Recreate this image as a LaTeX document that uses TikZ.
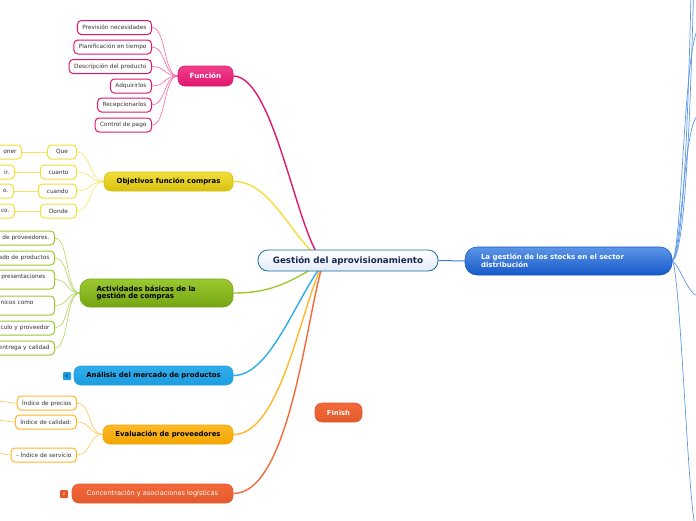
\documentclass[tikz,border=0pt]{standalone}
\usepackage{fontspec}
\setmainfont{DejaVu Sans}
\pgfdeclarelayer{bg}
\pgfsetlayers{bg,main}
\definecolor{cpink}{HTML}{E0166F}
\definecolor{cpinkl}{HTML}{F0408A}
\definecolor{cyel}{HTML}{D8C10E}
\definecolor{cyell}{HTML}{F2DE3A}
\definecolor{cgreen}{HTML}{74A612}
\definecolor{cgreenl}{HTML}{9CC830}
\definecolor{cblue}{HTML}{1C9EE0}
\definecolor{cbluel}{HTML}{30ACEA}
\definecolor{corange}{HTML}{F0A600}
\definecolor{corangel}{HTML}{FFB828}
\definecolor{cred}{HTML}{E25A2C}
\definecolor{credl}{HTML}{F4693A}
\definecolor{cdeep}{HTML}{1558C8}
\definecolor{cdeepl}{HTML}{5C96E8}
\definecolor{cnavy}{HTML}{1A2850}
\begin{document}
\begin{tikzpicture}[x=1pt,y=-1pt,
  topic/.style 2 args={rounded corners=7pt, draw=#1, line width=0.6pt, top color=#2, bottom color=#1, inner sep=0pt},
  bigtxt/.style={font=\bfseries\fontsize{6.9}{8}\selectfont},
  leaf/.style={draw=#1, line width=1pt, fill=white, rounded corners=4pt, minimum height=14pt, inner xsep=5pt, inner ysep=0pt, font=\fontsize{5.8}{6.8}\selectfont, text=black!80, anchor=east},
  conn/.style={draw=#1, line width=1.4pt},
  sub/.style={draw=#1, line width=0.6pt},
  badge/.style={fill=#1, rounded corners=1pt, minimum size=8pt, inner sep=0pt, font=\fontsize{4}{4}\selectfont}
]
\useasboundingbox (0,0) rectangle (696,520);

% central & right
\node[rounded corners=10pt, draw=cblue!70!black, line width=0.8pt, top color=white, bottom color=cdeep!12, minimum width=180pt, minimum height=21pt, inner sep=0pt, text=cnavy, font=\bfseries\fontsize{8.7}{10}\selectfont] (C) at (348,260.5) {Gestión del aprovisionamiento};
\coordinate (hub) at (324,262);
\node[topic={cdeep}{cdeepl}, rounded corners=12pt, minimum width=207pt, minimum height=28pt, text width=175pt, inner xsep=16pt, align=left, text=white, font=\bfseries\fontsize{7}{8.4}\selectfont] (R) at (568.5,261) {La gestión de los stocks en el sector\\distribución};

% Función
\node[topic={cpink}{cpinkl}, minimum width=55pt, minimum height=20pt, text=white, font=\bfseries\fontsize{7.2}{8}\selectfont] (F) at (205.5,76) {Función};
\node[leaf=cpink] (f1) at (152,27.5) {Previsión necesidades};
\node[leaf=cpink] (f2) at (152,47) {Planificación en tiempo};
\node[leaf=cpink] (f3) at (152,66.5) {Descripción del producto};
\node[leaf=cpink] (f4) at (152,86) {Adquirirlos};
\node[leaf=cpink] (f5) at (152,105) {Recepcionarlos};
\node[leaf=cpink] (f6) at (152,125) {Control de pago};

% Objetivos
\node[topic={cyel}{cyell}, minimum width=129pt, minimum height=19pt, text=black, bigtxt] (O) at (168.5,181.5) {Objetivos función compras};
\node[leaf=cyell, minimum width=29pt] (o1) at (77,152) {Que};
\node[leaf=cyell, minimum width=36pt] (o2) at (77,172) {cuanto};
\node[leaf=cyell, minimum width=38pt] (o3) at (77,191) {cuando};
\node[leaf=cyell, minimum width=36pt] (o4) at (77,211) {Donde};
\node[leaf=cyell, text width=40pt, align=right] (g1) at (22,152) {oner};
\node[leaf=cyell, text width=40pt, align=right] (g2) at (15,172) {ir.};
\node[leaf=cyell, text width=40pt, align=right] (g3) at (14,191) {o.};
\node[leaf=cyell, text width=40pt, align=right] (g4) at (15,211) {co.};

% Actividades
\node[topic={cgreen}{cgreenl}, rounded corners=10pt, minimum width=153pt, minimum height=28pt, text width=120pt, inner xsep=16.5pt, align=left, text=black, font=\bfseries\fontsize{7}{7.8}\selectfont] (A) at (156.5,293) {Actividades básicas de la\\gestión de compras};
\node[leaf=cgreenl, text width=80pt, align=right] (a1) at (55,238) {de proveedores.};
\node[leaf=cgreenl, text width=80pt, align=right] (a2) at (55,258) {ado de productos};
\node[leaf=cgreenl, text width=80pt, align=right, minimum height=19pt, text depth=7pt] (a3) at (55,279.5) {presentaciones\hspace*{4pt}};
\node[leaf=cgreenl, text width=80pt, align=right, minimum height=19pt, text depth=7pt] (a4) at (55,305.5) {nicos como\hspace*{16pt}};
\node[leaf=cgreenl, text width=80pt, align=right] (a5) at (55,328) {culo y proveedor};
\node[leaf=cgreenl, text width=80pt, align=right] (a6) at (55,348) {entrega y calidad};

% Análisis
\node[topic={cblue}{cbluel}, minimum width=159pt, minimum height=19pt, text=black, bigtxt] (M) at (153.5,375.5) {Análisis del mercado de productos};
\node[badge=cblue, text=cnavy] (b6) at (67,376) {6};

% Evaluación
\node[topic={corange}{corangel}, minimum width=130pt, minimum height=19pt, text=black, bigtxt] (E) at (168,434.5) {Evaluación de proveedores};
\node[leaf=corangel] (e1) at (77,403) {Índice de precios};
\node[leaf=corangel] (e2) at (77,422) {Índice de calidad:};
\node[leaf=corangel] (e3) at (77,455) {– Índice de servicio};
\coordinate (e1x) at (-4,401);
\coordinate (e2x) at (-4,420);
\coordinate (e3x) at (-4,453);

% Concentración
\node[topic={cred}{credl}, minimum width=161pt, minimum height=19pt, text=white, font=\fontsize{6.6}{8}\selectfont] (K) at (152.5,493.5) {Concentración y asociaciones logísticas};
\node[badge=cred, text=white] (b2) at (64,494) {2};

% Finish
\node[topic={cred}{credl}, minimum width=47pt, minimum height=19pt, text=white, font=\bfseries\fontsize{6.8}{8}\selectfont] (Fin) at (338.5,412.5) {Finish};

% right side off-canvas ends
\coordinate (r1) at (691,-5);
\coordinate (r2) at (693.5,-5);
\coordinate (r3) at (699,28);
\coordinate (r4) at (699,115);
\coordinate (r5) at (699,296);
\coordinate (r6) at (695,525);

\begin{pgfonlayer}{bg}
\draw[conn=cpink] (F.east) .. controls (275,76) and (298,242) .. (hub);
\draw[conn=cyell] (O.east) .. controls (272,181) and (290,238) .. (hub);
\draw[conn=cgreenl] (A.east) .. controls (275,293) and (292,280) .. (hub);
\draw[conn=cbluel] (M.east) .. controls (270,376) and (295,300) .. (hub);
\draw[conn=corangel] (E.east) .. controls (282,435) and (302,300) .. (hub);
\draw[conn=credl] (K.east) .. controls (292,494) and (308,300) .. (hub);
\draw[sub=cdeep!80, line width=1pt] (C.east) -- (R.west);
\foreach \t/\a/\b in {r1/{(683,255)}/{(688,120)}, r2/{(685,255)}/{(690,120)}, r3/{(682,250)}/{(684,40)}, r4/{(682,250)}/{(684,118)}, r5/{(680,265)}/{(688,296)}, r6/{(680,270)}/{(688,500)}}
  \draw[sub=cdeepl, line width=0.7pt] (R.east) .. controls \a and \b .. (\t);
\foreach \n in {f1,f2,f3,f4,f5,f6}
  \draw[sub=cpinkl!80] (F.west) .. controls +(-14,0) and +(14,0) .. (\n.east);
\foreach \n in {o1,o2,o3,o4}
  \draw[sub=cyell!80] (O.west) .. controls +(-14,0) and +(14,0) .. (\n.east);
\draw[sub=cyell!80] (o1.west) -- (g1.east);
\draw[sub=cyell!80] (o2.west) -- (g2.east);
\draw[sub=cyell!80] (o3.west) -- (g3.east);
\draw[sub=cyell!80] (o4.west) -- (g4.east);
\foreach \n in {a1,a2,a3,a4,a5,a6}
  \draw[sub=cgreenl!80] (A.west) .. controls +(-14,0) and +(14,0) .. (\n.east);
\foreach \n in {e1,e2,e3}
  \draw[sub=corangel!80] (E.west) .. controls +(-14,0) and +(14,0) .. (\n.east);
\draw[sub=corangel!80] (e1.west) .. controls +(-5,0) and +(5,0) .. (e1x);
\draw[sub=corangel!80] (e2.west) .. controls +(-4,0) and +(4,0) .. (e2x);
\draw[sub=corangel!80] (e3.west) .. controls +(-3,0) and +(3,0) .. (e3x);
\end{pgfonlayer}
\end{tikzpicture}
\end{document}
